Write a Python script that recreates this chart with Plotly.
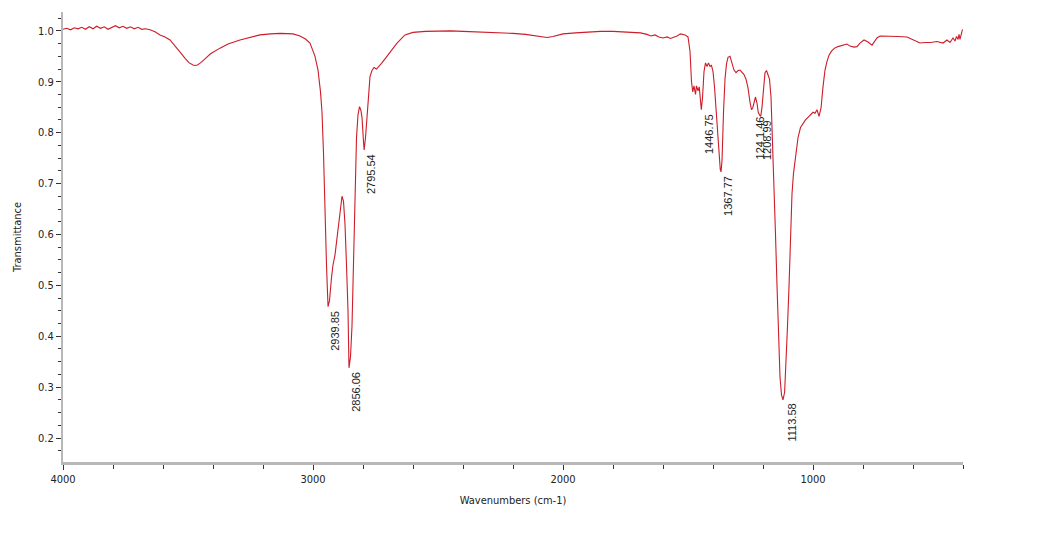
import plotly.graph_objects as go

# Wavenumber (cm-1) and transmittance
wavenumber = [
    4000, 3985, 3970, 3955, 3940, 3925, 3910, 3895, 3880, 3865, 3850, 3835, 3820, 3805,
    3790, 3775, 3760, 3745, 3730, 3715, 3700, 3685, 3670, 3652, 3632, 3612, 3592, 3572,
    3550, 3530, 3510, 3495, 3480, 3472, 3462, 3450, 3432, 3410, 3372, 3340, 3292, 3250,
    3212, 3170, 3130, 3080, 3052, 3030, 3012, 2992, 2980, 2970, 2964, 2958, 2952, 2946,
    2939.85, 2934, 2926, 2920, 2912, 2904, 2896, 2888, 2884, 2878, 2872, 2866, 2860,
    2856.06, 2850, 2844, 2838, 2832, 2826, 2820, 2814, 2809, 2804, 2799, 2795.54, 2790,
    2784, 2778, 2772, 2764, 2756, 2746, 2736, 2726, 2712, 2692, 2664, 2632, 2600, 2550,
    2500, 2450, 2400, 2350, 2300, 2250, 2200, 2150, 2110, 2080, 2064, 2040, 2000, 1950,
    1900, 1850, 1800, 1760, 1720, 1690, 1664, 1648, 1632, 1616, 1600, 1584, 1570, 1556,
    1544, 1530, 1512, 1500, 1492, 1486, 1481, 1476, 1470, 1466, 1460, 1455, 1450,
    1446.75, 1442, 1436, 1430, 1424, 1418, 1412, 1406, 1400, 1394, 1388, 1382, 1376,
    1371, 1367.77, 1364, 1358, 1352, 1346, 1340, 1332, 1324, 1316, 1308, 1300, 1292,
    1284, 1276, 1268, 1260, 1252, 1246, 1241.46, 1236, 1230, 1224, 1219, 1214,
    1208.99, 1204, 1198, 1192, 1186, 1180, 1174, 1168, 1162, 1156, 1150, 1144, 1138,
    1132, 1126, 1120, 1113.58, 1108, 1102, 1096, 1090, 1084, 1078, 1072, 1066, 1060,
    1050, 1040, 1030, 1020, 1010, 1000, 992, 984, 976, 968, 960, 952, 944, 936, 926,
    914, 900, 880, 864, 852, 836, 824, 812, 796, 780, 764, 752, 744, 732, 712, 690,
    660, 624, 600, 572, 550, 530, 504, 480, 464, 452, 440, 432, 426, 420, 416, 412,
    406, 402, 400,
]
transmittance = [
    1.003, 1.005, 1.002, 1.006, 1.004, 1.007, 1.003, 1.008, 1.004, 1.009, 1.005, 1.008, 1.003, 1.007,
    1.010, 1.006, 1.009, 1.005, 1.008, 1.004, 1.007, 1.003, 1.004, 1.002, 0.998, 0.992, 0.988, 0.982,
    0.970, 0.957, 0.945, 0.937, 0.933, 0.932, 0.933, 0.937, 0.945, 0.955, 0.966, 0.974, 0.982, 0.988,
    0.992, 0.994, 0.995, 0.994, 0.990, 0.984, 0.976, 0.950, 0.923, 0.880, 0.840, 0.760, 0.640, 0.540,
    0.458, 0.470, 0.515, 0.540, 0.560, 0.590, 0.625, 0.660, 0.675, 0.665, 0.620, 0.540, 0.450,
    0.338, 0.360, 0.420, 0.540, 0.680, 0.790, 0.835, 0.851, 0.845, 0.830, 0.790, 0.766, 0.790,
    0.830, 0.880, 0.910, 0.922, 0.928, 0.925, 0.930, 0.936, 0.945, 0.957, 0.976, 0.992, 0.997, 0.999,
    1.000, 1.000, 0.999, 0.998, 0.998, 0.997, 0.995, 0.993, 0.990, 0.988, 0.987, 0.989, 0.994, 0.996,
    0.998, 0.999, 0.999, 0.998, 0.998, 0.996, 0.993, 0.990, 0.992, 0.988, 0.986, 0.988, 0.985, 0.987,
    0.990, 0.994, 0.992, 0.988, 0.960, 0.900, 0.880, 0.892, 0.875, 0.892, 0.882, 0.890, 0.870,
    0.845, 0.868, 0.920, 0.937, 0.930, 0.937, 0.930, 0.932, 0.920, 0.890, 0.850, 0.800, 0.750,
    0.728, 0.723, 0.745, 0.840, 0.905, 0.935, 0.948, 0.950, 0.935, 0.923, 0.918, 0.922, 0.923,
    0.918, 0.914, 0.905, 0.888, 0.860, 0.845, 0.848, 0.862, 0.870, 0.858, 0.840, 0.835,
    0.832, 0.850, 0.890, 0.918, 0.922, 0.915, 0.905, 0.870, 0.790, 0.700, 0.600, 0.500,
    0.400, 0.320, 0.285, 0.275, 0.290, 0.340, 0.420, 0.497, 0.600, 0.680, 0.720, 0.745, 0.760,
    0.790, 0.810, 0.818, 0.825, 0.830, 0.835, 0.840, 0.838, 0.845, 0.832, 0.848, 0.890, 0.923, 0.940, 0.952,
    0.960, 0.966, 0.969, 0.972, 0.974, 0.970, 0.968, 0.969, 0.976, 0.982, 0.978, 0.972, 0.980, 0.986, 0.990, 0.990,
    0.989, 0.989, 0.988, 0.982, 0.976, 0.977, 0.977, 0.979, 0.976, 0.982, 0.977, 0.986, 0.980, 0.989, 0.983, 0.993,
    0.983, 0.995, 1.003,
]

# Labelled peaks
peak_wavenumbers = [2939.85, 2856.06, 2795.54, 1446.75, 1367.77, 1241.46, 1208.99, 1113.58]
peak_transmittance = [0.458, 0.338, 0.766, 0.845, 0.723, 0.840, 0.832, 0.275]
peak_labels = ["2939.85", "2856.06", "2795.54", "1446.75", "1367.77", "124 1.46", "1208.99", "1113.58"]

x_tick_values = [4000, 3000, 2000, 1000]
x_tick_labels = ["4000", "3000", "2000", "1000"]
y_tick_values = [0.2, 0.3, 0.4, 0.5, 0.6, 0.7, 0.8, 0.9, 1.0]

tick_font = dict(family="Liberation Sans Narrow, DejaVu Sans Condensed, Arial Narrow, sans-serif",
                 size=11, color="#222222")

fig = go.Figure()
fig.add_trace(go.Scatter(
    x=wavenumber, y=transmittance, mode="lines",
    line=dict(color="rgb(206,28,40)", width=1.1),
    hoverinfo="x+y", showlegend=False,
))

for wn, tr, lab in zip(peak_wavenumbers, peak_transmittance, peak_labels):
    fig.add_annotation(
        x=wn, y=tr, text=lab, showarrow=False, textangle=-90,
        xanchor="center", yanchor="top", xshift=7, yshift=-2,
        font=dict(family="Liberation Sans, Arial, sans-serif", size=11, color="#222222"),
    )

fig.update_layout(
    width=1039, height=538,
    margin=dict(l=63, r=76, t=12, b=76),
    paper_bgcolor="white", plot_bgcolor="white",
    xaxis=dict(
        range=[4000, 400], showgrid=False, zeroline=False,
        showline=True, linecolor="#b8b8b8", linewidth=3,
        ticks="outside", ticklen=5, tickcolor="#333333", tickwidth=1,
        tickvals=x_tick_values, ticktext=x_tick_labels, tickfont=tick_font,
        minor=dict(dtick=200, tick0=0, ticks="outside", ticklen=4, tickcolor="#333333", showgrid=False),
        title=dict(text="Wavenumbers (cm-1)", font=tick_font, standoff=12),
    ),
    yaxis=dict(
        range=[0.153, 1.037], showgrid=False, zeroline=False,
        showline=True, linecolor="#b8b8b8", linewidth=2,
        ticks="outside", ticklen=5, tickcolor="#333333", tickwidth=1,
        tickvals=y_tick_values, tickformat=".1f", tickfont=tick_font,
        minor=dict(dtick=0.025, tick0=0, ticks="outside", ticklen=3, tickcolor="#333333", showgrid=False),
        title=dict(text="Transmittance", font=tick_font, standoff=14),
    ),
)

fig.write_html("out.html")
